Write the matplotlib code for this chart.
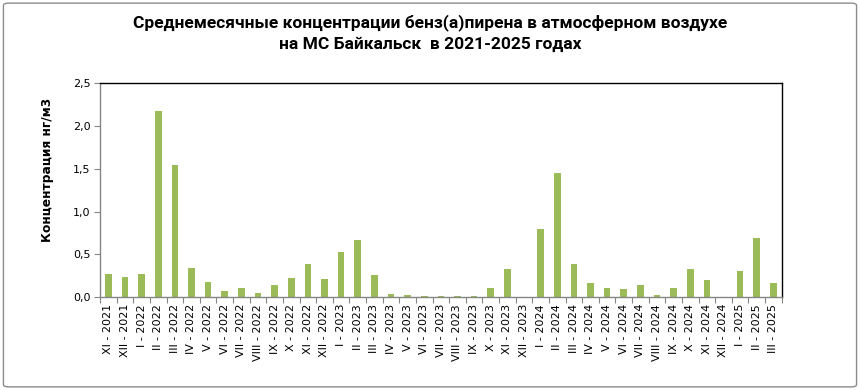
import matplotlib
matplotlib.use("Agg")
import matplotlib.pyplot as plt
from matplotlib.patches import FancyBboxPatch
from matplotlib.ticker import FuncFormatter

months = ["XI - 2021", "XII - 2021", "I - 2022", "II - 2022", "III - 2022", "IV - 2022",
          "V - 2022", "VI - 2022", "VII - 2022", "VIII - 2022", "IX - 2022", "X - 2022",
          "XI - 2022", "XII - 2022", "I - 2023", "II - 2023", "III - 2023", "IV - 2023",
          "V - 2023", "VI - 2023", "VII - 2023", "VIII - 2023", "IX - 2023", "X - 2023",
          "XI - 2023", "XII - 2023", "I - 2024", "II - 2024", "III - 2024", "IV - 2024",
          "V - 2024", "VI - 2024", "VII - 2024", "VIII - 2024", "IX - 2024", "X - 2024",
          "XI - 2024", "XII - 2024", "I - 2025", "II - 2025", "III - 2025"]
values = [0.27, 0.23, 0.27, 2.18, 1.55, 0.34,
          0.18, 0.07, 0.11, 0.05, 0.14, 0.22,
          0.39, 0.21, 0.53, 0.67, 0.26, 0.04,
          0.02, 0.01, 0.01, 0.01, 0.01, 0.11,
          0.33, 0.0, 0.80, 1.45, 0.39, 0.16,
          0.10, 0.09, 0.14, 0.02, 0.10, 0.33,
          0.20, 0.0, 0.30, 0.69, 0.16]
yticks = [0.0, 0.5, 1.0, 1.5, 2.0, 2.5]

title = "Среднемесячные концентрации бенз(а)пирена в атмосферном воздухе\nна МС Байкальск  в 2021-2025 годах"
ylabel = "Концентрация нг/м3"

fig = plt.figure(figsize=(8.6, 3.9), dpi=100)
fig.patches.append(FancyBboxPatch((0.004, 0.008), 0.992, 0.984, boxstyle="round,pad=0,rounding_size=0.006",
                                  transform=fig.transFigure, facecolor="none", edgecolor="#8c8c8c", lw=1.0))
ax = fig.add_axes([0.1163, 0.2385, 0.7926, 0.5475])

x = list(range(len(months)))
ax.bar(x, values, width=0.4, color="#9BBB59", zorder=2)
ax.set_xlim(-0.5, len(months) - 0.5)
ax.set_ylim(0, 2.5)
ax.set_yticks(yticks)
ax.yaxis.set_major_formatter(FuncFormatter(lambda v, p: f"{v:.1f}".replace(".", ",")))
ax.set_xticks([i - 0.5 for i in x] + [len(months) - 0.5], minor=True)
ax.set_xticks(x)
ax.set_xticklabels(months, rotation=90, fontsize=8, family="DejaVu Sans")
ax.tick_params(axis="x", which="major", length=0, pad=5)
ax.tick_params(axis="x", which="minor", length=4, color="#868686", width=0.8)
ax.tick_params(axis="y", length=4, color="#868686", width=0.8, labelsize=8, pad=3)
for lab in ax.get_yticklabels():
    lab.set_family("DejaVu Sans")

ax.spines["top"].set_color("black")
ax.spines["right"].set_color("black")
ax.spines["left"].set_color("#868686")
ax.spines["bottom"].set_color("#868686")
for s in ax.spines.values():
    s.set_linewidth(1.0)

ax.set_ylabel(ylabel, fontsize=8.8, fontweight="bold", family="DejaVu Sans")
ax.yaxis.set_label_coords(-0.068, 0.594)
fig.text(0.5, 0.915, title, ha="center", va="center", fontsize=12.5, fontweight="bold",
         family="Roboto", linespacing=1.45)

fig.savefig("out.png", dpi=100)
